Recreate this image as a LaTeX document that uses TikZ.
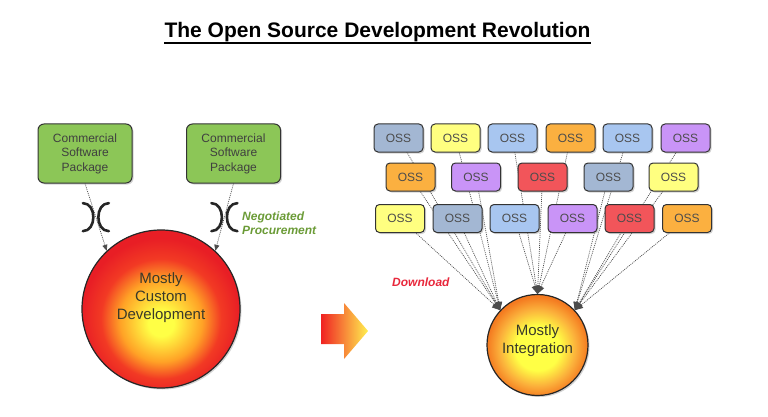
\documentclass[tikz,border=0pt]{standalone}
\usepackage{fontspec}
\setmainfont{Liberation Sans}
\usetikzlibrary{arrows.meta,shadows,calc}
\definecolor{gfill}{HTML}{8CC657}
\definecolor{gtext}{HTML}{6B9B37}
\definecolor{dred}{HTML}{E8283C}
\definecolor{cGB}{HTML}{A3B7D3}
\definecolor{cLB}{HTML}{A8C6F0}
\definecolor{cYE}{HTML}{FFFF80}
\definecolor{cOR}{HTML}{FBB040}
\definecolor{cPU}{HTML}{C994F7}
\definecolor{cRE}{HTML}{F2555A}
\definecolor{sunY}{HTML}{FFFF45}
\definecolor{sunO}{HTML}{FFA226}
\definecolor{sunR}{HTML}{F23A24}
\definecolor{sunR2}{HTML}{E81E25}
\definecolor{smO}{HTML}{FBB03B}
\definecolor{smR}{HTML}{F47A20}
\definecolor{arrR}{HTML}{F02222}
\definecolor{arrY}{HTML}{FFF050}
\definecolor{ctext}{HTML}{3A3A2A}
\pgfdeclareradialshading{bigsun}{\pgfpoint{0bp}{-5bp}}{color(0bp)=(sunY); color(4bp)=(sunY); color(13bp)=(sunO); color(19bp)=(sunR); color(25bp)=(sunR2); color(50bp)=(sunR2)}
\pgfdeclareradialshading{smallsun}{\pgfpoint{0bp}{-2bp}}{color(0bp)=(sunY); color(11bp)=(sunY); color(19bp)=(smO); color(25bp)=(smR); color(50bp)=(smR)}
\pgfdeclarelayer{bg}
\pgfsetlayers{bg,main}
\begin{document}
\begin{tikzpicture}[x=1pt,y=-1pt,
  shad/.style={drop shadow={shadow xshift=1.5pt,shadow yshift=-1.5pt,opacity=0.35}},
  gbox/.style={draw=black!80, line width=1pt, rounded corners=6pt, fill=gfill,
    minimum width=94pt, minimum height=59pt, inner sep=0pt, align=center,
    font=\fontsize{12}{14.5}\selectfont, text=black!75, shad},
  oss/.style={draw=black!80, line width=1pt, rounded corners=4pt,
    minimum width=49pt, minimum height=28pt, inner sep=0pt,
    font=\fontsize{12}{14}\selectfont, text=black!70, shad},
  dl/.style={draw=black!70, line width=0.7pt, dash pattern=on 1pt off 1pt},
  bracket/.style={draw=black!85, line width=2.6pt, line cap=round},
  ctxt/.style={font=\fontsize{15}{18}\selectfont, text=ctext, align=center, inner sep=0pt},
  ]
\useasboundingbox (0,0) rectangle (768,417);

% title
\node[font=\fontsize{21}{25}\selectfont\bfseries, anchor=base, inner sep=0pt] (title) at (377.5,38) {The Open Source Development Revolution};
\draw[line width=1.5pt] ($(title.base west)+(0,5)$) -- ($(title.base east)+(0,5)$);

% left side
\node[gbox] (gb1) at (85,153.5) {Commercial\\Software\\Package};
\node[gbox] (gb2) at (233.5,153.5) {Commercial\\Software\\Package};
\node[circle, minimum size=158pt, inner sep=0pt, draw=black!85, line width=1.2pt, shading=bigsun, shad] (big) at (161,309) {};
\node[ctxt] (bigtxt) at (161,298) {Mostly\\Custom\\Development};

\draw[dl,-{Triangle[length=6pt,width=5pt]}] (gb1.south) -- coordinate (s1) (big.133);
\draw[dl,-{Triangle[length=6pt,width=5pt]}] (gb2.south) -- coordinate (s2) (big.47);
\foreach \s in {s1,s2}{
  \draw[bracket] ($(\s)+(-13,-14)$) .. controls ($(\s)+(1,-14)$) and ($(\s)+(1,14)$) .. ($(\s)+(-13,14)$);
  \draw[bracket] ($(\s)+(13,-14)$) .. controls ($(\s)+(-1,-14)$) and ($(\s)+(-1,14)$) .. ($(\s)+(13,14)$);
}
\node[anchor=west, align=left, font=\fontsize{12}{14.5}\selectfont\bfseries\itshape, text=gtext, inner sep=0pt] (nego) at (242,223) {Negotiated\\Procurement};

% big arrow
\shade[left color=arrR, right color=arrY] (321,314) -- (344,314) -- (344,303) -- (368,331) -- (344,359) -- (344,344) -- (321,344) -- cycle;

% right side
\node[oss, fill=cGB] (r1a) at (398.5,138) {OSS};
\node[oss, fill=cYE] (r1b) at (455.5,138) {OSS};
\node[oss, fill=cLB] (r1c) at (512.5,138) {OSS};
\node[oss, fill=cOR] (r1d) at (570.5,138) {OSS};
\node[oss, fill=cLB] (r1e) at (627.5,138) {OSS};
\node[oss, fill=cPU] (r1f) at (685.5,138) {OSS};

\node[oss, fill=cOR] (r2a) at (410.5,177) {OSS};
\node[oss, fill=cPU] (r2b) at (476,177) {OSS};
\node[oss, fill=cRE] (r2c) at (542.5,177) {OSS};
\node[oss, fill=cGB] (r2d) at (608.5,177) {OSS};
\node[oss, fill=cYE] (r2e) at (673.5,177) {OSS};

\node[oss, fill=cYE] (r3a) at (400,218.5) {OSS};
\node[oss, fill=cGB] (r3b) at (457.5,218.5) {OSS};
\node[oss, fill=cLB] (r3c) at (514.5,218.5) {OSS};
\node[oss, fill=cPU] (r3d) at (572.5,218.5) {OSS};
\node[oss, fill=cRE] (r3e) at (629.5,218.5) {OSS};
\node[oss, fill=cOR] (r3f) at (687,218.5) {OSS};

\node[circle, minimum size=101pt, inner sep=0pt, draw=black!85, line width=1.2pt, shading=smallsun, shad] (ci) at (537.5,345) {};
\node[ctxt] (citxt) at (537.5,341) {Mostly\\Integration};

\node[anchor=west, font=\fontsize{12}{14.5}\selectfont\bfseries\itshape, text=dred, inner sep=0pt] (dload) at (392,282) {Download};

\begin{pgfonlayer}{bg}
\foreach \b in {r1a,r1b,r2a,r2b,r3a,r3b}
  \draw[dl,-{Triangle[length=8pt,width=7pt]}] (\b.center) -- (ci.137);
\foreach \b in {r1c,r1d,r2c,r3c,r3d}
  \draw[dl,-{Triangle[length=8pt,width=7pt]}] (\b.center) -- (ci.90);
\foreach \b in {r1e,r1f,r2d,r2e,r3e,r3f}
  \draw[dl,-{Triangle[length=8pt,width=7pt]}] (\b.center) -- (ci.43);
\end{pgfonlayer}
\end{tikzpicture}
\end{document}
